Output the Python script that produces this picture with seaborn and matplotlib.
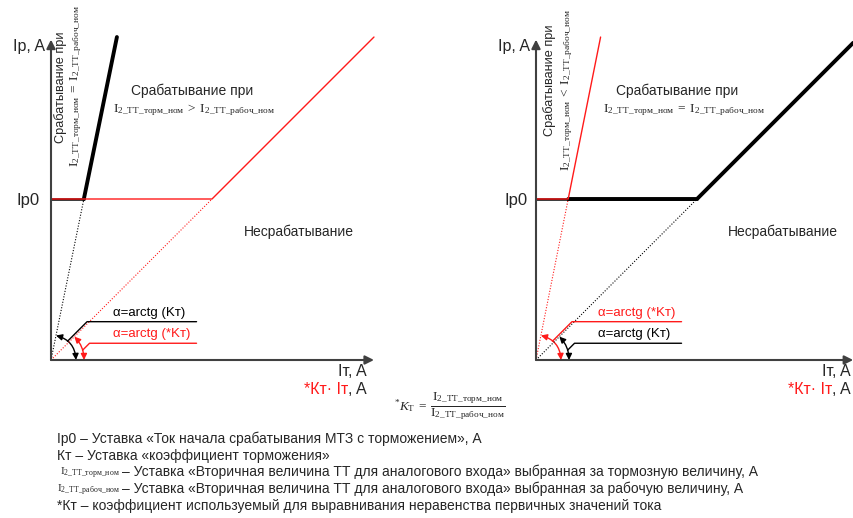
import numpy as np
import matplotlib
matplotlib.use("Agg")
import matplotlib.pyplot as plt
from matplotlib.patches import FancyArrowPatch
import seaborn as sns

# values (Ip0 = 1 unit)
ip0 = 1.0
kt = [4.9, 1.0]          # slope of black characteristic, left / right
kt_star = [1.0, 5.0]     # slope of red characteristic, left / right
x_max = [2.006, 1.97]
y_max = 1.99
y_top = 2.006

sns.set_style("white")
plt.rcParams['font.family'] = ['Liberation Sans', 'DejaVu Sans']
plt.rcParams['mathtext.fontset'] = 'custom'
plt.rcParams['mathtext.rm'] = 'Liberation Serif'
plt.rcParams['mathtext.it'] = 'Liberation Serif:italic'
plt.rcParams['mathtext.default'] = 'rm'

W, H = 854, 518
fig = plt.figure(figsize=(W / 100, H / 100), dpi=100)
scale = 161.0  # px per unit


def px(x, y):
    return x / W, 1 - y / H


RED = '#ff1a1a'
AX = '#404040'

I_torm_s = r'I_{2\_ТТ\_торм\_ном}'
I_rab_s = r'I_{2\_ТТ\_рабоч\_ном}'

origins = [(51, 360), (536, 360)]
for i, (ox, oy) in enumerate(origins):
    ax = fig.add_axes([ox / W, (H - oy) / H, x_max[i] * scale / W, y_max * scale / H])
    ax.set_xlim(0, x_max[i])
    ax.set_ylim(0, y_max)
    ax.axis('off')

    k_b, k_r = kt[i], kt_star[i]
    xb, xr = ip0 / k_b, ip0 / k_r
    x_first = ip0 / max(k_b, k_r)

    # dotted extensions through origin
    sns.lineplot(x=[0, xb], y=[0, ip0], ax=ax, color='black', lw=0.8,
                 linestyle=(0, (1, 1.5)), sort=False, estimator=None, clip_on=False)
    sns.lineplot(x=[0, xr], y=[0, ip0], ax=ax, color=RED, lw=0.8,
                 linestyle=(0, (1, 1.5)), sort=False, estimator=None, clip_on=False)

    # black characteristic
    xb_end = min(y_top / k_b, x_max[i])
    sns.lineplot(x=[0, xb], y=[ip0, ip0], ax=ax, color='black', lw=1.8,
                 sort=False, estimator=None, clip_on=False)
    sns.lineplot(x=[x_first, xb, xb_end], y=[ip0, ip0, k_b * xb_end], ax=ax,
                 color='black', lw=2.8, sort=False, estimator=None, clip_on=False)
    # red characteristic
    xr_end = min(y_top / k_r, x_max[i])
    sns.lineplot(x=[0, xr, xr_end], y=[ip0, ip0, k_r * xr_end], ax=ax,
                 color=RED, lw=1.0, sort=False, estimator=None, clip_on=False)

    # axes arrows
    for end in [(x_max[i], 0), (0, y_max)]:
        ax.annotate('', xy=end, xytext=(0, 0), annotation_clip=False,
                    arrowprops=dict(arrowstyle='-|>', color=AX, lw=1.5,
                                    mutation_scale=13, shrinkA=0, shrinkB=0))

    # angle arcs: steeper slope gets the inner arc
    slopes = sorted([(k_b, 'black'), (k_r, RED)], reverse=True)
    for (k, c), r, y_lab in zip(slopes, [0.155, 0.205], [0.238, 0.104]):
        th = np.arctan(k)
        arc = FancyArrowPatch((r, 0), (r * np.cos(th), r * np.sin(th)),
                              connectionstyle='arc3,rad=%.3f' % np.tan(th / 4),
                              arrowstyle='<|-|>', mutation_scale=9, color=c,
                              lw=1.0, shrinkA=0, shrinkB=0, clip_on=False)
        ax.add_patch(arc)
        a0 = th * 0.62 if r < 0.18 else 0.3
        sx, sy = r * np.cos(a0), r * np.sin(a0)
        lx = sx + (y_lab - sy)
        ax.plot([sx, lx, 0.904], [sy, y_lab, y_lab], color=c, lw=1.0, clip_on=False)
        lab = 'α=arctg (Kт)' if c == 'black' else 'α=arctg (*Kт)'
        ax.text(0.385, y_lab + 0.055, lab, color=c, fontsize=9.5, ha='left',
                va='center')

fs = 11.5
mfs = 9.6
# left panel texts
fig.text(*px(45, 46), 'Ip, A', fontsize=fs, ha='right', va='center')
fig.text(*px(40, 201), 'Ip0', fontsize=12, ha='right', va='center')
fig.text(*px(61, 87), 'Срабатывание при', fontsize=9.2, rotation=90, ha='center', va='center')
fig.text(*px(76, 86), r'$%s\;=\;%s$' % (I_torm_s, I_rab_s), fontsize=mfs, rotation=90,
         ha='center', va='center')
fig.text(*px(192, 91), 'Срабатывание при', fontsize=10, ha='center', va='center')
fig.text(*px(194, 110), r'$%s\;>\;%s$' % (I_torm_s, I_rab_s), fontsize=mfs,
         ha='center', va='center')
fig.text(*px(299, 232), 'Несрабатывание', fontsize=10, ha='center', va='center')

# right panel texts
fig.text(*px(530, 46), 'Ip, A', fontsize=fs, ha='right', va='center')
fig.text(*px(528, 201), 'Ip0', fontsize=12, ha='right', va='center')
fig.text(*px(550, 80), 'Срабатывание при', fontsize=9.2, rotation=90, ha='center', va='center')
fig.text(*px(567, 90), r'$%s\;<\;%s$' % (I_torm_s, I_rab_s), fontsize=mfs, rotation=90,
         ha='center', va='center')
fig.text(*px(677, 91), 'Срабатывание при', fontsize=10, ha='center', va='center')
fig.text(*px(684, 110), r'$%s\;=\;%s$' % (I_torm_s, I_rab_s), fontsize=mfs,
         ha='center', va='center')
fig.text(*px(783, 232), 'Несрабатывание', fontsize=10, ha='center', va='center')

# x axis labels
for xr_px in [367, 851]:
    fig.text(*px(xr_px, 371), 'Iт, A', fontsize=fs, ha='right', va='center')
    t = fig.text(*px(xr_px, 389), ', A', fontsize=fs, ha='right', va='center')
    fig.add_artist(plt.Annotation('*Кт· Iт', xy=(0, 0.5), xycoords=t, fontsize=fs,
                                  ha='right', va='center', color=RED))

# formula
fig.text(*px(450, 406), r'$^{*}\mathit{K}_{Т}\;=\;\dfrac{%s}{%s}$' % (I_torm_s, I_rab_s),
         fontsize=9.5, ha='center', va='center')

# notes
nfs = 10
fig.text(*px(57, 439), 'Ip0 – Уставка «Ток начала срабатывания МТЗ с торможением», А',
         fontsize=nfs, ha='left', va='center')
fig.text(*px(57, 456), 'Кт – Уставка «коэффициент торможения»', fontsize=nfs,
         ha='left', va='center')
fig.text(*px(60, 473), '$%s$' % I_torm_s, fontsize=8, ha='left', va='center')
fig.text(*px(122, 472), '– Уставка «Вторичная величина ТТ для аналогового входа» '
         'выбранная за тормозную величину, А', fontsize=nfs, ha='left', va='center')
fig.text(*px(57, 490), '$%s$' % I_rab_s, fontsize=8, ha='left', va='center')
fig.text(*px(122, 489), '– Уставка «Вторичная величина ТТ для аналогового входа» '
         'выбранная за рабочую величину, А', fontsize=nfs, ha='left', va='center')
fig.text(*px(57, 506), '*Кт – коэффициент используемый для выравнивания неравенства '
         'первичных значений тока', fontsize=nfs, ha='left', va='center')

fig.savefig('out.png', dpi=100)
